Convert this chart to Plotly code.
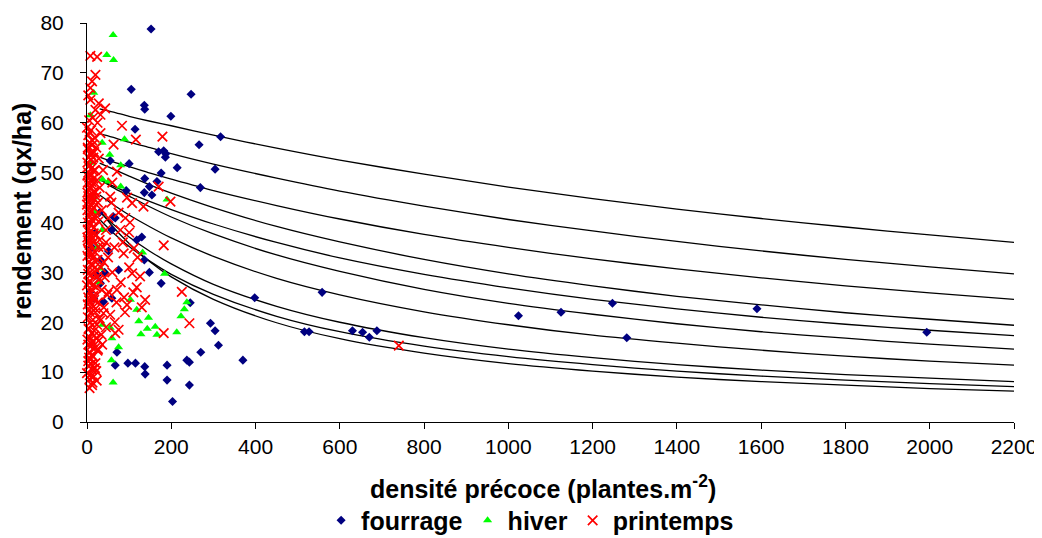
import plotly.graph_objects as go

# ---------------- data ----------------
fourrage_x = [152, 105, 247, 136, 137, 199, 114, 317, 266, 170, 182, 187, 186, 214, 304, 100, 55, 176, 137, 269,
              166, 148, 136, 154, 93, 62, 67, 59, 118, 130, 51, 136, 32, 75, 148, 24, 32, 176, 8, 16,
              39, 59, 245, 398, 558, 293, 304, 312, 270, 237, 243, 370, 190, 137, 138, 115, 97, 67, 190, 243,
              203, 71, 516, 527, 630, 654, 670, 688, 1024, 1125, 1247, 1281, 1590, 1993, 12, 20, 30, 42]
fourrage_y = [78.8, 66.7, 65.7, 63.5, 62.7, 61.3, 58.7, 57.2, 55.6, 54.2, 54.4, 53.8, 53.1, 51.0, 50.7, 51.8, 52.4, 49.9, 48.8, 47.0,
              48.2, 47.2, 46.0, 45.5, 46.4, 41.2, 40.9, 38.5, 36.5, 37.1, 34.3, 32.5, 32.5, 30.5, 30.0, 29.4, 27.8, 27.8, 26.1, 24.8,
              24.1, 24.8, 23.9, 24.9, 26.0, 19.8, 18.3, 15.4, 14.0, 12.4, 12.0, 12.4, 11.4, 11.1, 9.6, 11.8, 11.8, 11.4, 8.4, 7.4,
              4.1, 14.0, 18.1, 18.1, 18.3, 18.0, 17.0, 18.3, 21.3, 22.0, 23.8, 16.9, 22.7, 18.0, 35.0, 38.0, 42.0, 30.0]

hiver_x = [62, 47, 63, 16, 8, 89, 36, 54, 80, 80, 37, 51, 190, 36, 20, 132, 184, 32, 103, 118,
           123, 146, 143, 162, 166, 128, 213, 223, 231, 237, 37, 55, 75, 59, 58, 62, 25, 15, 10, 28]
hiver_y = [77.6, 73.6, 72.6, 66.0, 61.5, 56.7, 56.0, 53.6, 51.5, 47.2, 48.6, 48.2, 44.6, 38.5, 42.0, 34.0, 29.7, 30.8, 24.5, 22.5,
           20.2, 20.9, 18.7, 19.1, 17.5, 17.6, 18.0, 21.2, 22.6, 24.0, 19.5, 18.9, 15.0, 16.8, 12.4, 7.9, 35.0, 45.0, 52.0, 28.0]

printemps_x = [8, 24, 20, 12, 8, 3, 8, 28, 20, 43, 32, 14, 5, 25, 32, 10, 3, 18, 6, 12,
               2, 22, 9, 4, 15, 28, 1, 7, 12, 19, 3, 38, 9, 5, 15, 24, 2, 11, 7, 30,
               4, 17, 1, 9, 22, 13, 5, 3, 26, 10, 16, 1, 7, 35, 20, 4, 12, 27, 2, 8,
               17, 45, 5, 22, 11, 1, 30, 15, 6, 38, 3, 20, 10, 50, 25, 5, 14, 33, 2, 18,
               9, 42, 28, 4, 14, 22, 35, 8, 48, 3, 17, 26, 12, 40, 6, 20, 55, 2, 30, 14,
               8, 24, 45, 4, 17, 11, 34, 6, 22, 28, 14, 3, 9, 19, 25, 5, 13, 8, 20, 3,
               12, 16, 6, 12, 6, 22,
               83, 116, 179, 63, 71, 170, 198, 107, 134, 91, 51, 79, 182, 55, 225, 243, 182, 138, 126, 107,
               111, 87, 71, 67, 75, 95, 51, 39, 740, 60, 80, 100, 65, 90, 110, 120, 75, 95, 60, 85,
               100, 118, 130, 70, 45, 58, 40, 88, 66, 102,
               0, 6, 13, 2, 17, 9, 4, 15, 1, 11, 7, 19, 3, 14, 0, 10, 5, 21, 8, 2,
               16, 12, 4, 27, 6, 1, 13, 9, 18, 3, 24, 7, 0, 11, 15, 5, 2, 20, 8, 31,
               12, 4, 17, 1, 9, 26, 6, 14, 3, 10, 19, 0, 7, 23, 13, 5, 36, 16, 2, 9]
printemps_y = [73.4, 73.2, 69.6, 68.3, 67.0, 65.5, 64.6, 63.9, 62.6, 62.9, 61.6, 61.0, 60.5, 60.0, 57.9, 58.5, 57.5, 57.0, 56.0, 55.5,
               55.0, 55.0, 54.0, 53.0, 53.0, 52.8, 52.0, 51.5, 51.0, 50.5, 50.0, 50.5, 49.5, 49.0, 48.8, 48.5, 48.0, 47.5, 47.0, 47.0,
               46.5, 46.3, 46.0, 45.5, 45.2, 45.0, 44.5, 44.0, 44.0, 43.5, 43.0, 42.5, 42.0, 42.5, 41.5, 41.0, 40.5, 40.2, 40.0, 39.5,
               39.0, 38.5, 38.0, 37.5, 37.2, 37.0, 36.5, 36.0, 35.5, 35.0, 34.5, 34.0, 33.5, 33.0, 32.5, 32.0, 31.5, 31.0, 30.5, 30.0,
               29.5, 29.0, 28.5, 28.0, 27.5, 27.0, 26.5, 26.0, 25.5, 25.0, 24.5, 24.0, 23.5, 23.0, 22.5, 22.0, 21.5, 21.0, 20.8, 20.5,
               20.0, 19.5, 19.0, 18.8, 18.3, 17.8, 17.5, 17.0, 16.8, 16.3, 16.0, 15.5, 15.2, 14.8, 14.3, 13.8, 13.3, 12.5, 11.8, 11.3,
               10.5, 9.1, 8.6, 7.4, 6.8, 10.2,
               59.4, 56.6, 57.2, 55.6, 50.2, 47.2, 44.2, 43.9, 43.2, 40.9, 40.9, 38.5, 35.4, 45.2, 26.1, 19.8, 17.8, 24.5, 29.2, 29.8,
               34.8, 33.8, 26.5, 17.8, 18.5, 23.5, 26.1, 21.8, 15.3, 30.0, 28.0, 31.0, 35.0, 22.0, 26.0, 33.0, 42.0, 45.0, 48.0, 36.0,
               38.0, 27.0, 23.0, 24.0, 36.0, 44.0, 32.0, 25.0, 20.0, 40.0,
               59.0, 58.2, 56.4, 54.7, 54.1, 52.6, 51.2, 50.3, 49.4, 48.1, 46.9, 46.0, 45.3, 44.2, 43.6, 42.3, 41.5, 40.8, 39.9, 38.6,
               37.8, 36.7, 35.9, 35.1, 34.2, 33.3, 32.8, 31.6, 30.9, 29.7, 29.1, 28.3, 27.4, 26.6, 25.3, 24.4, 23.6, 22.7, 21.9, 20.3,
               19.4, 18.6, 17.3, 16.5, 15.8, 14.6, 14.0, 13.1, 12.2, 11.6, 10.8, 9.8, 9.4, 8.3, 7.9, 12.9, 15.5, 24.9, 36.4, 53.6]

# fitted yield-density curves
curve_x = [30, 60, 100, 150, 200, 300, 450, 600, 800, 1000, 1200, 1400, 1600, 1800, 2000, 2200]
curve_1 = [62.8, 62.2, 61.3, 60.3, 59.4, 57.5, 54.9, 52.5, 49.7, 47.1, 44.8, 42.7, 40.8, 39.1, 37.5, 36.0]
curve_2 = [57.8, 57.1, 56.1, 55.0, 53.8, 51.7, 48.9, 46.3, 43.3, 40.6, 38.3, 36.2, 34.3, 32.6, 31.1, 29.7]
curve_3 = [53.1, 52.2, 51.2, 49.9, 48.7, 46.4, 43.4, 40.7, 37.6, 35.0, 32.7, 30.7, 28.9, 27.3, 25.9, 24.6]
curve_4 = [51.9, 50.8, 49.3, 47.5, 45.9, 43.0, 39.2, 36.1, 32.6, 29.7, 27.3, 25.2, 23.5, 21.9, 20.6, 19.4]
curve_5 = [48.6, 47.4, 45.9, 44.2, 42.6, 39.7, 36.0, 32.9, 29.6, 26.9, 24.6, 22.7, 21.0, 19.6, 18.4, 17.3]
curve_6 = [48.7, 47.1, 45.3, 43.1, 41.1, 37.7, 33.5, 30.2, 26.6, 23.8, 21.6, 19.7, 18.1, 16.8, 15.6, 14.6]
curve_7 = [45.5, 43.7, 41.5, 39.1, 36.9, 33.2, 28.8, 25.5, 22.1, 19.5, 17.4, 15.8, 14.4, 13.2, 12.2, 11.4]
curve_8 = [42.1, 39.8, 37.1, 34.2, 31.7, 27.6, 23.2, 20.0, 16.9, 14.6, 12.9, 11.5, 10.4, 9.5, 8.8, 8.1]
curve_9 = [40.6, 38.1, 35.2, 32.2, 29.6, 25.6, 21.2, 18.1, 15.2, 13.1, 11.5, 10.2, 9.2, 8.4, 7.7, 7.1]
curve_10 = [42.5, 39.3, 35.8, 32.1, 29.1, 24.6, 19.9, 16.7, 13.8, 11.7, 10.2, 9.0, 8.1, 7.4, 6.7, 6.2]
curves = [curve_1, curve_2, curve_3, curve_4, curve_5, curve_6, curve_7, curve_8, curve_9, curve_10]

x_ticks = [0, 200, 400, 600, 800, 1000, 1200, 1400, 1600, 1800, 2000, 2200]
y_ticks = [0, 10, 20, 30, 40, 50, 60, 70, 80]

# ---------------- figure ----------------
FONT = "Liberation Sans, Arial, sans-serif"
fig = go.Figure()

for cy in curves:
    fig.add_trace(go.Scatter(x=curve_x, y=cy, mode="lines", showlegend=False,
                             line=dict(color="black", width=1.3, shape="spline", smoothing=0.8),
                             hoverinfo="skip"))

fig.add_trace(go.Scatter(x=fourrage_x, y=fourrage_y, mode="markers", name="fourrage",
                         marker=dict(symbol="diamond", size=7, color="#000080"), cliponaxis=False))
fig.add_trace(go.Scatter(x=hiver_x, y=hiver_y, mode="markers", name="hiver",
                         marker=dict(symbol="triangle-up", size=8, color="#00FF00"), cliponaxis=False))
fig.add_trace(go.Scatter(x=printemps_x, y=printemps_y, mode="markers", name="printemps",
                         marker=dict(symbol="x-thin", size=9.5, line=dict(color="#FF0000", width=1.7),
                                     color="#FF0000"), cliponaxis=False))

# the page adds an 8px body margin, so the figure is 8px smaller than the window
fig.update_layout(
    width=1034, height=530,
    margin=dict(l=79, r=28, t=15, b=116, autoexpand=False),
    paper_bgcolor="white", plot_bgcolor="white",
    font=dict(family=FONT, color="black", size=20),
    showlegend=True,
    legend=dict(orientation="h", x=0.478, xanchor="center", y=-0.247, yanchor="middle",
                font=dict(family=FONT, size=25, weight="bold"), itemwidth=30,
                tracegroupgap=0, bgcolor="rgba(0,0,0,0)"),
    annotations=[
        dict(text="densité précoce (plantes.m<sup>-2</sup>)", xref="paper", yref="paper",
             x=0.492, y=0, xanchor="center", yanchor="middle", yshift=-65, showarrow=False,
             font=dict(family=FONT, size=25, weight="bold")),
        dict(text="rendement (qx/ha)", xref="paper", yref="paper", textangle=-90,
             x=0, y=0.528, xanchor="center", yanchor="middle", xshift=-65, showarrow=False,
             font=dict(family=FONT, size=25, weight="bold")),
    ],
)

fig.update_xaxes(range=[0, 2200], tickvals=x_ticks, ticks="outside", ticklen=6, tickcolor="black",
                 showline=True, linecolor="black", linewidth=1, showgrid=False, zeroline=False,
                 automargin=False, tickfont=dict(family=FONT, size=21), ticklabelstandoff=0)
fig.update_yaxes(range=[0, 80], tickvals=y_ticks, ticks="outside", ticklen=6, tickcolor="black",
                 showline=True, linecolor="black", linewidth=1, showgrid=False, zeroline=False,
                 automargin=False, tickfont=dict(family=FONT, size=21), ticklabelstandoff=12)

fig.write_html("out.html")
